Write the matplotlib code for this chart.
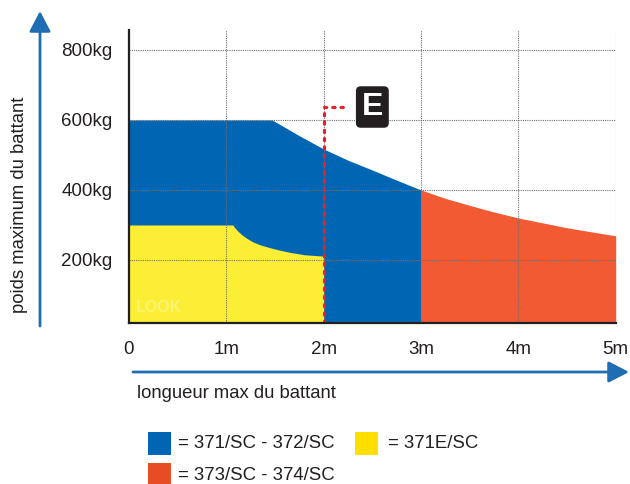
import matplotlib
matplotlib.use("Agg")
import matplotlib.pyplot as plt
from matplotlib.patches import FancyArrowPatch, Rectangle

plt.rcParams['font.family'] = ['Liberation Sans', 'DejaVu Sans']

# ---- data ----
blue_x = [0, 1.47, 1.75, 2.0, 2.25, 2.5, 2.75, 3.0]
blue_y = [600, 600, 555, 517, 485, 457, 428, 400]
red_x = [3.0, 3.25, 3.5, 3.75, 4.0, 4.5, 5.0]
red_y = [400, 376, 356, 337, 320, 292, 269]
yellow_x = [0, 1.066, 1.09, 1.12, 1.16, 1.21, 1.27, 1.35, 1.45, 1.55, 1.65, 1.8, 2.0]
yellow_y = [300, 300, 291, 282, 272, 262, 252, 243, 235, 228, 222, 215, 211]
e_line_x = [2.0, 2.0, 2.24]
e_line_y = [20, 638, 638]
x_ticks = [0, 1, 2, 3, 4, 5]
x_labels = ['0', '1m', '2m', '3m', '4m', '5m']
y_ticks = [200, 400, 600, 800]
y_labels = ['200kg', '400kg', '600kg', '800kg']
legend_items = [('= 371/SC - 372/SC', '#0066b3'),
                ('= 371E/SC', '#ffde00'),
                ('= 373/SC - 374/SC', '#e84c22')]

BLUE = '#0066b3'
YELLOW = '#fcee35'
RED = '#f15a32'
ARROW = '#1f6db3'
TXT = '#231f20'

W, H = 630, 484
fig = plt.figure(figsize=(6.3, 4.84), dpi=100)
ax = fig.add_axes([129 / W, 1 - 323 / H, (615.7 - 129) / W, (323 - 30) / H])
ax.set_xlim(0, 5)
ax.set_ylim(20, 857)

ax.fill_between(blue_x, 0, blue_y, color=BLUE, lw=0, zorder=1)
ax.fill_between(red_x, 0, red_y, color=RED, lw=0, zorder=1)
ax.fill_between(yellow_x, 0, yellow_y, color=YELLOW, lw=0, zorder=2)

# grid on top
for x in x_ticks[1:]:
    ax.axvline(x, color='#6f6f6f', lw=0.8, ls=(0, (1, 1)), zorder=3)
for y in y_ticks:
    ax.axhline(y, color='#6f6f6f', lw=0.8, ls=(0, (1, 1)), zorder=3)

ax.plot(e_line_x, e_line_y, color='#e8202a', lw=2.3, ls=(0, (0.7, 1.9)),
        dash_capstyle='round', zorder=4)
ax.text(2.50, 637, 'E', color='white', fontsize=23, fontweight='bold',
        ha='center', va='center', zorder=5,
        bbox=dict(boxstyle='round,pad=0.18,rounding_size=0.15', fc=TXT, ec='none'))

ax.text(0.07, 52, 'LOOK', color='white', alpha=0.3, fontsize=11.5,
        fontweight='bold', zorder=4)

ax.set_xticks(x_ticks)
ax.set_xticklabels(x_labels, fontsize=13.5, color=TXT)
ax.set_yticks(y_ticks)
ax.set_yticklabels(y_labels, fontsize=13.5, color=TXT)
ax.tick_params(length=0, pad=12)
ax.tick_params(axis='x', pad=13)
for s in ['top', 'right']:
    ax.spines[s].set_visible(False)
for s in ['left', 'bottom']:
    ax.spines[s].set_linewidth(1.6)
    ax.spines[s].set_color(TXT)
    ax.spines[s].set_zorder(6)

# arrows
style = '-|>,head_length=12.5,head_width=6.5'
fig.patches.append(FancyArrowPatch((40 / W, 1 - 326 / H), (40 / W, 1 - 11 / H),
                                   transform=fig.transFigure, arrowstyle=style,
                                   color=ARROW, lw=2, mutation_scale=1,
                                   shrinkA=0, shrinkB=0))
fig.patches.append(FancyArrowPatch((133 / W, 1 - 372 / H), (629 / W, 1 - 372 / H),
                                   transform=fig.transFigure, arrowstyle=style,
                                   color=ARROW, lw=2, mutation_scale=1,
                                   shrinkA=0, shrinkB=0))

fig.text(20 / W, 1 - 205 / H, 'poids maximum du battant', rotation=90,
         ha='center', va='center', fontsize=13.3, color=TXT)
fig.text(137 / W, 1 - 393 / H, 'longueur max du battant',
         ha='left', va='center', fontsize=13.3, color=TXT)

# legend
pos = [(148, 432, 30), (355, 432, 33), (148, 463, 30)]
for (lbl, col), (px, py, gap) in zip(legend_items, pos):
    fig.patches.append(Rectangle((px / W, 1 - (py + 23) / H), 23 / W, 23 / H,
                                 transform=fig.transFigure, fc=col, ec='none'))
    fig.text((px + gap) / W, 1 - (py + 12) / H, lbl, ha='left', va='center',
             fontsize=13.4, color=TXT)

fig.savefig('out.png', dpi=100)
